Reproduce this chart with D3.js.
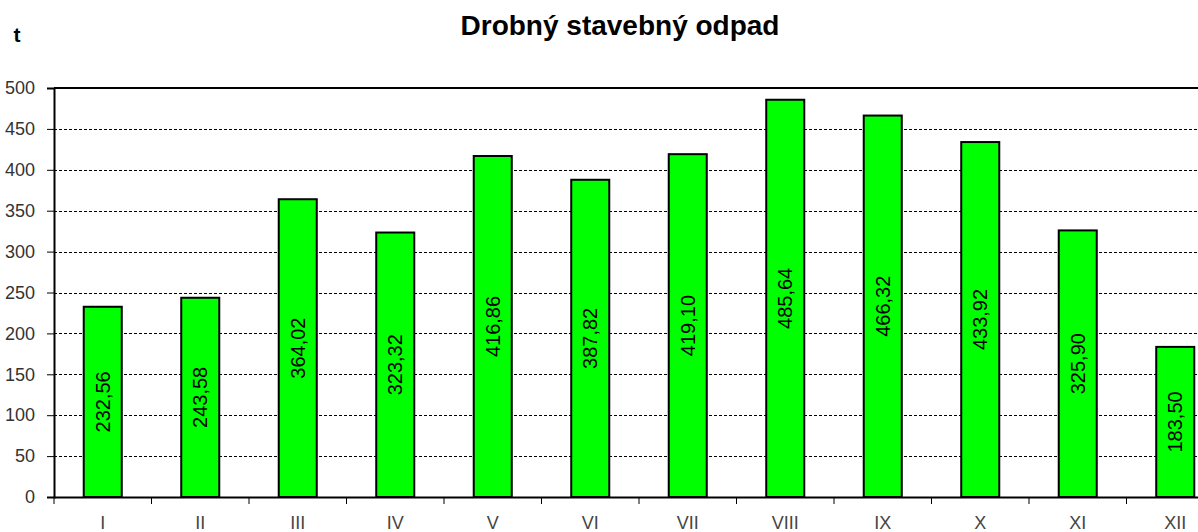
<!DOCTYPE html>
<html>
<head>
    <script src="https://cdn.jsdelivr.net/npm/d3@7"></script>
    <style>
        html, body {
            padding: 0;
            margin: 0;
            background: #fff;
        }
    </style>
</head>
<body>
<script>
    // data
    var months = ["I", "II", "III", "IV", "V", "VI", "VII", "VIII", "IX", "X", "XI", "XII"];
    var values = [232.56, 243.58, 364.02, 323.32, 416.86, 387.82, 419.10, 485.64, 466.32, 433.92, 325.90, 183.50];
    var yTicks = [0, 50, 100, 150, 200, 250, 300, 350, 400, 450, 500];

    var width = 1198, height = 532;
    var plotLeft = 54, plotTop = 88, plotBottom = 497;
    var plotRight = plotLeft + 12 * 97.5; // plot goes past the window edge

    var svg = d3.select('body').append('svg')
        .attr('width', width)
        .attr('height', height)
        .style('display', 'block')
        .style('font-family', 'Arial, "Liberation Sans", sans-serif');

    var x = d3.scaleBand().domain(months).range([plotLeft, plotRight]).paddingInner(0.61).paddingOuter(0.305);
    var y = d3.scaleLinear().domain([0, 500]).range([plotBottom, plotTop]);

    // title + unit
    svg.append('text')
        .attr('x', 620).attr('y', 35)
        .attr('text-anchor', 'middle')
        .style('font-size', '28px').style('font-weight', 'bold')
        .text('Drobný stavebný odpad');

    svg.append('text')
        .attr('x', 17).attr('y', 42)
        .attr('text-anchor', 'middle')
        .style('font-size', '21px').style('font-weight', 'bold')
        .text('t');

    // dashed grid
    svg.append('g').selectAll('line')
        .data(yTicks.filter(function (d) { return d > 0 && d < 500; }))
        .enter().append('line')
        .attr('x1', plotLeft).attr('x2', plotRight)
        .attr('y1', function (d) { return Math.round(y(d)) + 0.5; })
        .attr('y2', function (d) { return Math.round(y(d)) + 0.5; })
        .attr('stroke', '#000')
        .attr('stroke-dasharray', '3,2');

    // top border
    svg.append('line')
        .attr('x1', plotLeft).attr('x2', plotRight)
        .attr('y1', y(500)).attr('y2', y(500))
        .attr('stroke', '#000').attr('stroke-width', 2);

    // bars
    svg.append('g').selectAll('rect')
        .data(values)
        .enter().append('rect')
        .attr('x', function (d, i) { return x(months[i]); })
        .attr('y', function (d) { return y(d); })
        .attr('width', x.bandwidth())
        .attr('height', function (d) { return y(0) - y(d); })
        .attr('fill', '#00ff00')
        .attr('stroke', '#000')
        .attr('stroke-width', 2);

    // value labels
    svg.append('g').selectAll('text')
        .data(values)
        .enter().append('text')
        .attr('transform', function (d, i) {
            var cx = x(months[i]) + x.bandwidth() / 2;
            var cy = (y(d) + y(0)) / 2;
            return 'translate(' + cx + ',' + cy + ') rotate(-90)';
        })
        .attr('text-anchor', 'middle')
        .attr('dy', '0.35em')
        .style('font-size', '20px')
        .text(function (d) { return d.toFixed(2).replace('.', ','); });

    // y axis
    var yAxis = svg.append('g')
        .attr('transform', 'translate(' + plotLeft + ',0)')
        .call(d3.axisLeft(y).tickValues(yTicks).tickSize(7).tickPadding(12));
    yAxis.select('.domain').attr('stroke', '#000').attr('stroke-width', 2);
    yAxis.selectAll('.tick line').attr('stroke', '#000');
    yAxis.selectAll('.tick text')
        .style('font-size', '18px').style('font-family', 'Arial, "Liberation Sans", sans-serif')
        .attr('fill', '#333');

    // x axis
    var xAxis = svg.append('g')
        .attr('transform', 'translate(0,' + plotBottom + ')')
        .call(d3.axisBottom(x).tickSize(0).tickPadding(19));
    xAxis.select('.domain').attr('stroke', '#000').attr('stroke-width', 2);
    xAxis.selectAll('.tick text')
        .style('font-size', '18px').style('font-family', 'Arial, "Liberation Sans", sans-serif')
        .attr('fill', '#444');

    // category separators below the axis
    svg.append('g').selectAll('line')
        .data(d3.range(13))
        .enter().append('line')
        .attr('x1', function (i) { return plotLeft + i * x.step(); })
        .attr('x2', function (i) { return plotLeft + i * x.step(); })
        .attr('y1', plotBottom).attr('y2', plotBottom + 7)
        .attr('stroke', '#000');
</script>
</body>
</html>
